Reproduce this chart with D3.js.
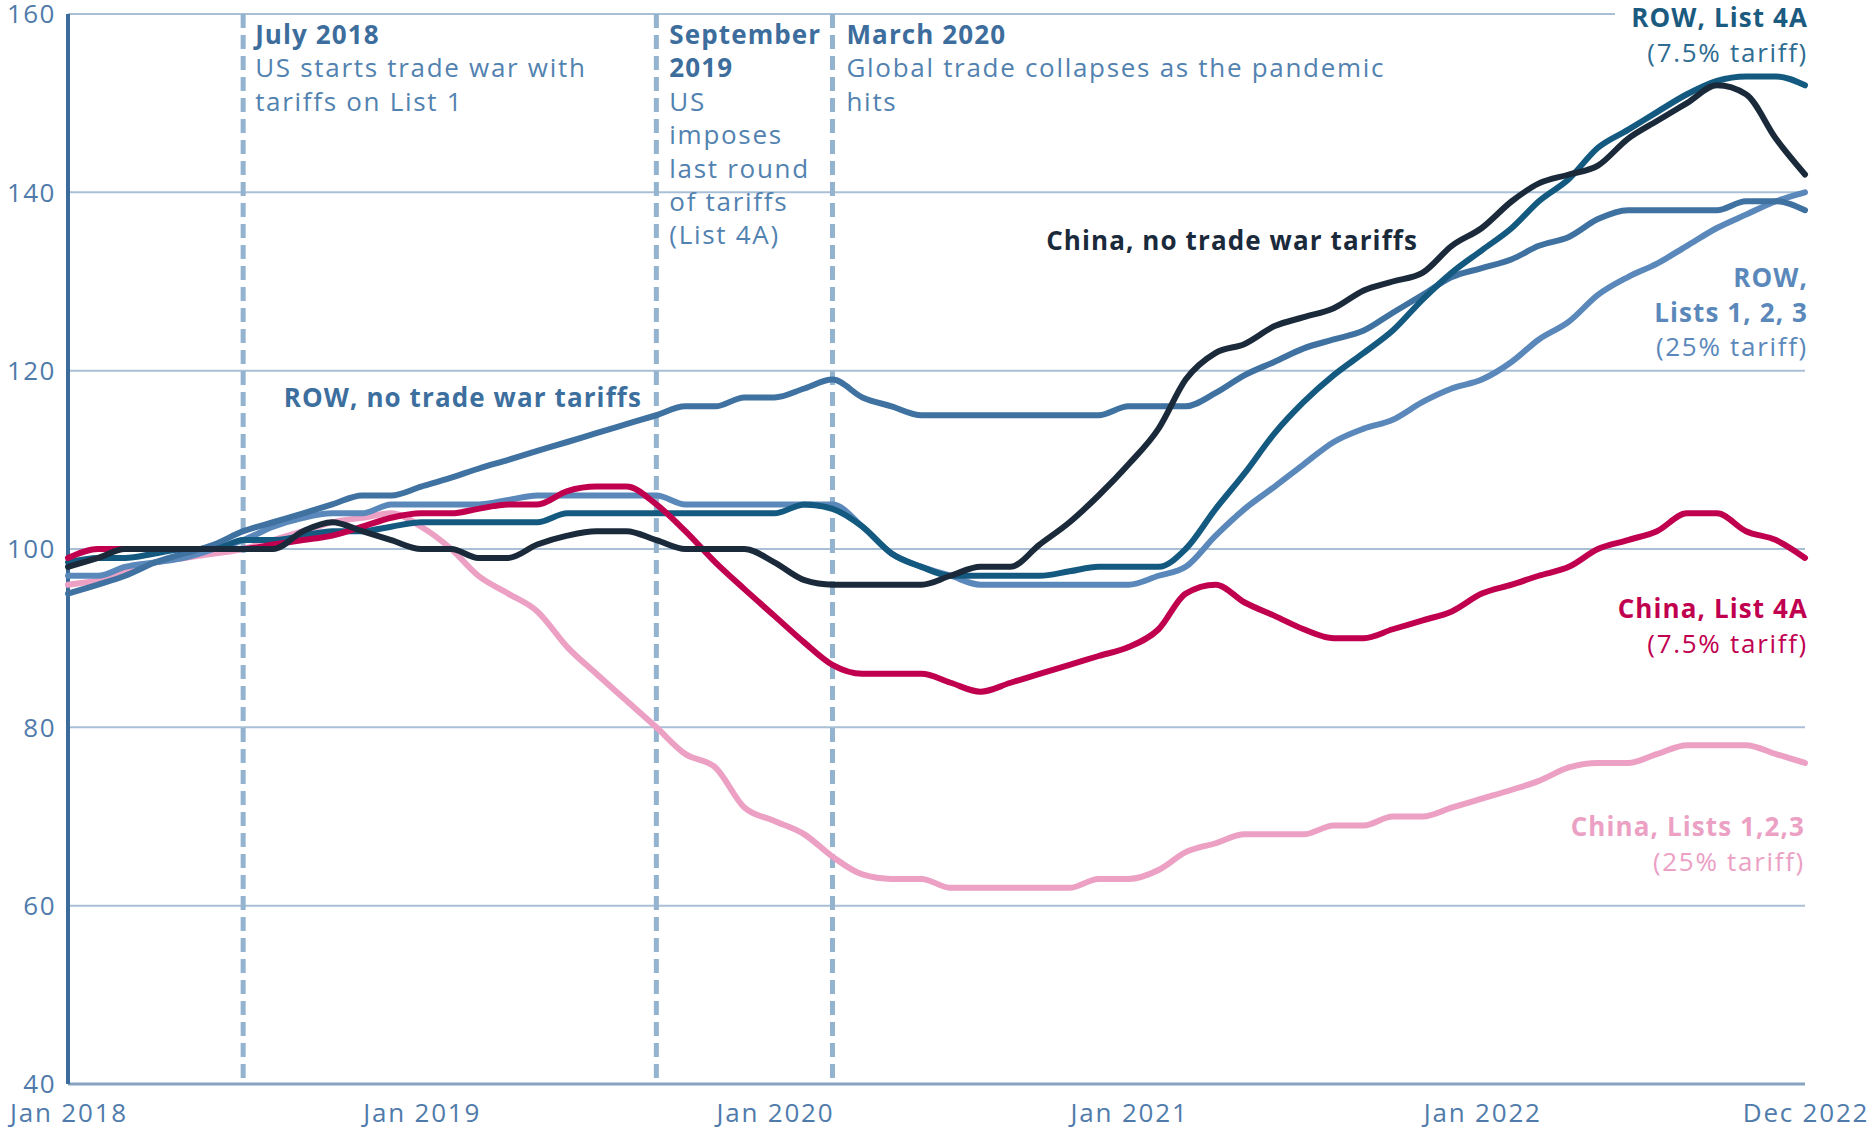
<!DOCTYPE html>
<html>
<head>
<meta charset="utf-8">
<script src="https://cdn.jsdelivr.net/npm/d3@7"></script>
<style>
  body { margin: 0; background: #fff; }
  svg { display: block; font-family: "Open Sans", sans-serif; }
</style>
</head>
<body>
<div id="chart"></div>
<script>
// monthly index values, Jan 2018 .. Dec 2022
const months = d3.range(60).map(i => new Date(2018, i, 1));

const rowNone = [95,96,97,98.5,99.5,100.5,102,103,104,105,106,106,107,108,109,110,111,112,113,114,
  115,116,116,117,117,118,119,117,116,115,115,115,115,115,115,115,116,116,116,117.5,
  119.5,121,122.5,123.5,124.5,126.5,128.5,130.5,131.5,132.5,134,135,137,138,138,138,138,139,139,138];
const rowL123 = [97,97,98,98.5,99,100,101,102.5,103.5,104,104,105,105,105,105,105.5,106,106,106,106,
  106,105,105,105,105,105,105,102.5,99.5,98,97,96,96,96,96,96,96,97,98,101.5,
  104.5,107,109.5,112,113.5,114.5,116.5,118,119,121,123.5,125.5,128.5,130.5,132,134,136,137.5,139,140];
const rowL4A = [98.5,99,99,99.5,100,100,101,101,101.5,102,102,102.5,103,103,103,103,103,104,104,104,
  104,104,104,104,104,105,104.5,102.5,99.5,98,97,97,97,97,97.5,98,98,98,100,104.5,
  108.5,113,116.5,119.5,122,124.5,128,131,133.5,136,139,141.5,145,147,149,151,152.5,153,153,152];
const chinaNone = [98,99,100,100,100,100,100,100,102,103,102,101,100,100,99,99,100.5,101.5,102,102,
  101,100,100,100,98.5,96.5,96,96,96,96,97,98,98,100.5,103,106,109.5,113.5,119,122,
  123,125,126,127,129,130,131,134,136,139,141,142,143,146,148,150,152,151,146,142];
const chinaL4A = [99,100,100,100,100,100,100,100.5,101,101.5,102.5,103.5,104,104,104.5,105,105,106.5,107,107,
  105,102,98.5,95.5,92.5,89.5,87,86,86,86,85,84,85,86,87,88,89,91,95,96,
  94,92.5,91,90,90,91,92,93,95,96,97,98,100,101,102,104,104,102,101,99];
const chinaL123 = [96,96.5,97.5,98.5,99,99.5,100,101,102,103,103.5,104,102.5,100,97,95,93,89,86,83,
  80,77,75.5,71,69.5,68,65.5,63.5,63,63,62,62,62,62,62,63,63,64,66,67,
  68,68,68,69,69,70,70,71,72,73,74,75.5,76,76,77,78,78,78,77,76];

const yTicks = [40,60,80,100,120,140,160];
const xTickDates = [new Date(2018,0,1), new Date(2019,0,1), new Date(2020,0,1),
  new Date(2021,0,1), new Date(2022,0,1), new Date(2022,11,1)];
const xTickLabels = ["Jan 2018","Jan 2019","Jan 2020","Jan 2021","Jan 2022","Dec 2022"];

// event markers: July 2018, September 2019, March 2020
const eventDates = [new Date(2018,6,1), new Date(2019,8,1), new Date(2020,2,1)];

const width = 1872, height = 1129;
const x = d3.scaleTime().domain([months[0], months[59]]).range([68, 1805]);
const y = d3.scaleLinear().domain([40, 160]).range([1084, 14]);

const svg = d3.select("#chart").append("svg")
  .attr("width", width).attr("height", height);

svg.append("rect").attr("width", width).attr("height", height).attr("fill", "#fff");

// grid lines
svg.append("g").selectAll("line").data(yTicks.filter(d => d > 40)).join("line")
  .attr("x1", x.range()[0]).attr("x2", x.range()[1])
  .attr("y1", d => y(d)).attr("y2", d => y(d))
  .attr("stroke", "#a9bfd6").attr("stroke-width", 2);

// x axis baseline
svg.append("line")
  .attr("x1", x.range()[0]).attr("x2", x.range()[1])
  .attr("y1", y(40)).attr("y2", y(40))
  .attr("stroke", "#86a3c2").attr("stroke-width", 3);

// dashed event lines
svg.append("g").selectAll("line").data(eventDates).join("line")
  .attr("x1", d => x(d)).attr("x2", d => x(d))
  .attr("y1", y(160)).attr("y2", y(40))
  .attr("stroke", "#93b3cf").attr("stroke-width", 5)
  .attr("stroke-dasharray", "14,7");

// y axis line
svg.append("line")
  .attr("x1", 68).attr("x2", 68)
  .attr("y1", y(160)).attr("y2", y(40))
  .attr("stroke", "#3b6c9c").attr("stroke-width", 4);

// tick labels
svg.append("g").selectAll("text").data(yTicks).join("text")
  .attr("x", 56).attr("y", d => y(d)).attr("dy", "0.36em")
  .attr("text-anchor", "end")
  .attr("font-size", 26).attr("letter-spacing", 1.5).attr("fill", "#4f7bab")
  .text(d => d);

svg.append("g").selectAll("text").data(xTickDates).join("text")
  .attr("x", d => x(d) + 1).attr("y", 1122)
  .attr("text-anchor", "middle")
  .attr("font-size", 26).attr("letter-spacing", 1.8).attr("fill", "#4f7bab")
  .text((d, i) => xTickLabels[i]);

// series
const series = [
  {values: chinaL123, color: "#eba0c4"},
  {values: rowL123, color: "#5b88ba"},
  {values: rowNone, color: "#3f72a1"},
  {values: rowL4A, color: "#145a80"},
  {values: chinaL4A, color: "#c0004f"},
  {values: chinaNone, color: "#1b2a3b"}
];

const line = d3.line()
  .x((d, i) => x(months[i]))
  .y(d => y(d))
  .curve(d3.curveMonotoneX);

svg.append("g").selectAll("path").data(series).join("path")
  .attr("d", d => line(d.values))
  .attr("fill", "none")
  .attr("stroke", d => d.color)
  .attr("stroke-width", 6)
  .attr("stroke-linejoin", "round")
  .attr("stroke-linecap", "round");

// annotations for the dashed lines
function note(xpos, lines, boldCount) {
  const t = svg.append("text").attr("font-size", 26);
  lines.forEach((s, i) => {
    t.append("tspan")
      .attr("x", xpos).attr("y", 44 + i * 33.4)
      .attr("font-weight", i < boldCount ? 700 : 400)
      .attr("letter-spacing", i < boldCount ? 1.1 : 1.7)
      .attr("fill", i < boldCount ? "#3c6d9c" : "#5282b0")
      .text(s);
  });
}
note(x(eventDates[0]) + 12, ["July 2018", "US starts trade war with", "tariffs on List 1"], 1);
note(x(eventDates[1]) + 13, ["September", "2019", "US", "imposes", "last round", "of tariffs", "(List 4A)"], 2);
note(x(eventDates[2]) + 14, ["March 2020", "Global trade collapses as the pandemic", "hits"], 1);

// series labels, right aligned
function label(xpos, ypos, lines, color) {
  const t = svg.append("text").attr("font-size", 26).attr("text-anchor", "end");
  lines.forEach((l, i) => {
    t.append("tspan")
      .attr("x", xpos).attr("y", ypos + i * 34.5)
      .attr("font-weight", l.bold ? 700 : 400)
      .attr("letter-spacing", l.bold ? 1.1 : 1.7)
      .attr("fill", l.color || color)
      .text(l.text);
  });
  return t;
}

// knock the top grid line out behind the ROW, List 4A label
svg.append("rect").attr("x", 1615).attr("y", 4).attr("width", 195).attr("height", 30).attr("fill", "#fff");

label(642, 407, [{text: "ROW, no trade war tariffs", bold: true}], "#3d6f9e");
label(1418, 250, [{text: "China, no trade war tariffs", bold: true}], "#1b2a3b");
label(1808, 27, [{text: "ROW, List 4A", bold: true}, {text: "(7.5% tariff)", color: "#2f6c91"}], "#1c5b80");
label(1808, 287, [{text: "ROW,", bold: true}, {text: "Lists 1, 2, 3", bold: true}, {text: "(25% tariff)"}], "#5b88ba");
label(1808, 618, [{text: "China, List 4A", bold: true}, {text: "(7.5% tariff)"}], "#c0004f");
label(1805, 836, [{text: "China, Lists 1,2,3", bold: true}, {text: "(25% tariff)"}], "#eba0c4");
</script>
</body>
</html>
